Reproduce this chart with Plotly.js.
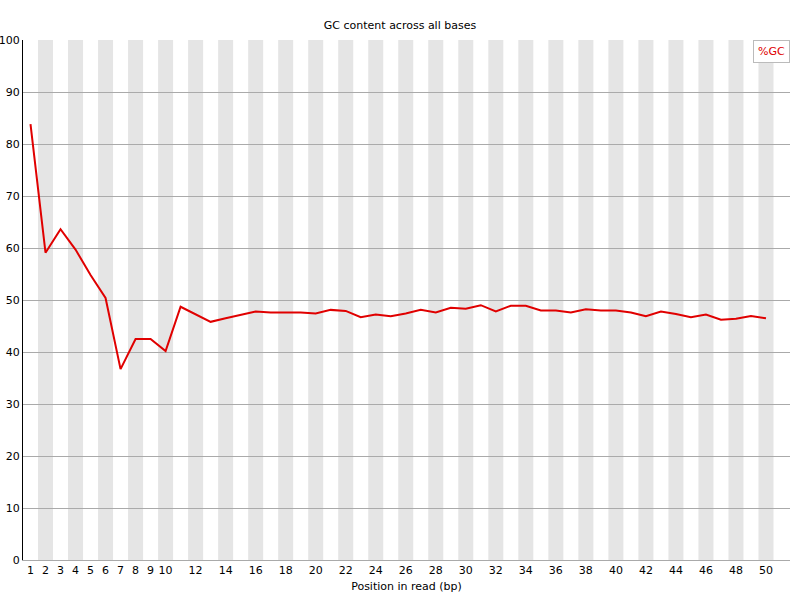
<!DOCTYPE html>
<html>
<head>
<meta charset="utf-8">
<script src="https://cdn.plot.ly/plotly-3.0.1.min.js"></script>
<style>html,body{margin:0;padding:0;background:#fff;}#chart{width:800px;height:600px;}</style>
</head>
<body>
<div id="chart"></div>
<script>
const positions = [];
for (let i = 1; i <= 50; i++) positions.push(i);
const gcPercent = [
  83.8, 59.1, 63.6, 59.7, 54.8, 50.4, 36.7, 42.5, 42.5, 40.2,
  48.7, 47.3, 45.8, 46.5, 47.1, 47.8, 47.6, 47.6, 47.6, 47.4,
  48.1, 47.9, 46.7, 47.2, 46.9, 47.4, 48.1, 47.6, 48.5, 48.3,
  49.0, 47.8, 48.9, 48.9, 48.0, 48.0, 47.6, 48.2, 48.0, 48.0,
  47.6, 46.9, 47.8, 47.3, 46.7, 47.2, 46.2, 46.4, 46.9, 46.5
];
const xTickVals = [1,2,3,4,5,6,7,8,9,10,12,14,16,18,20,22,24,26,28,30,32,34,36,38,40,42,44,46,48,50];
const xTickText = xTickVals.map(String);
const yTickVals = [0,10,20,30,40,50,60,70,80,90,100];

const shapes = [];
positions.forEach(p => {
  if (p % 2 === 0) {
    shapes.push({type:'rect', xref:'x', yref:'paper', x0:p-0.5, x1:p+0.5, y0:0, y1:1,
      fillcolor:'#e5e5e5', line:{width:0}, layer:'below'});
  }
});

const trace = {
  x: positions, y: gcPercent, type:'scatter', mode:'lines', name:'%GC',
  line:{color:'#e00000', width:2}, hoverinfo:'skip'
};

const font = {family:'"DejaVu Sans", Tahoma, sans-serif', size:11, color:'#000'};
const layout = {
  width:800, height:600,
  margin:{l:23.3, r:10, t:40, b:40, pad:0},
  paper_bgcolor:'#fff', plot_bgcolor:'#fff',
  font: font,
  showlegend:false,
  title:{text:'GC content across all bases', font:{family:font.family, size:11, color:'#000'}, x:0.5, xanchor:'center', y:0.958, yanchor:'middle'},
  xaxis:{range:[0.5,51.6], tickvals:xTickVals, ticktext:xTickText, ticks:'', showgrid:false, zeroline:false,
    showline:true, linecolor:'#aaaaaa', linewidth:1, tickfont:{family:font.family, size:11, color:'#000'},
    title:{text:'Position in read (bp)', font:{family:font.family, size:11, color:'#000'}, standoff:6}, fixedrange:true},
  yaxis:{range:[0,100], tickvals:yTickVals, ticks:'', showgrid:true, gridcolor:'#aaaaaa', gridwidth:1, zeroline:false,
    showline:true, linecolor:'#000', linewidth:1, tickfont:{family:font.family, size:11, color:'#000'}, fixedrange:true},
  shapes: shapes,
  annotations:[{xref:'paper', yref:'paper', x:1, y:1, xanchor:'right', yanchor:'top', text:'%GC', showarrow:false,
    font:{family:font.family, size:11, color:'#e00000'}, bgcolor:'#fff', bordercolor:'#bbbbbb', borderwidth:1, borderpad:4}]
};
Plotly.newPlot('chart', [trace], layout, {staticPlot:true, displayModeBar:false});
</script>
</body>
</html>
